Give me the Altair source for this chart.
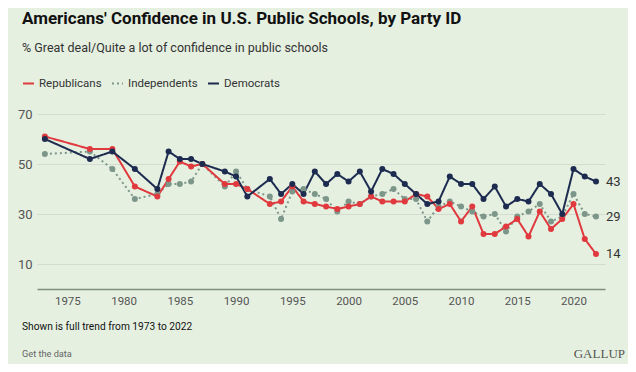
import altair as alt
import pandas as pd

years = [1973, 1977, 1979, 1981, 1983, 1984, 1985, 1986, 1987, 1989, 1990, 1991,
         1993, 1994, 1995, 1996, 1997, 1998, 1999, 2000, 2001, 2002, 2003, 2004,
         2005, 2006, 2007, 2008, 2009, 2010, 2011, 2012, 2013, 2014, 2015, 2016,
         2017, 2018, 2019, 2020, 2021, 2022]
republicans = [61, 56, 56, 41, 37, 44, 51, 49, 50, 42, 42, 40,
               34, 35, 41, 35, 34, 33, 32, 33, 34, 37, 35, 35,
               35, 38, 37, 32, 34, 27, 33, 22, 22, 25, 28, 21,
               31, 24, 28, 34, 20, 14]
independents = [54, 55, 48, 36, 38, 42, 42, 43, 50, 41, 47, 40,
                37, 28, 39, 40, 38, 36, 31, 35, 34, 37, 38, 40,
                36, 36, 27, 33, 35, 33, 31, 29, 30, 23, 29, 31,
                34, 27, 29, 38, 30, 29]
democrats = [60, 52, 55, 48, 40, 55, 52, 52, 50, 47, 45, 37,
             44, 38, 42, 38, 47, 42, 46, 43, 47, 39, 48, 46,
             42, 38, 34, 35, 45, 42, 42, 36, 41, 33, 36, 35,
             42, 38, 30, 48, 45, 43]
parties = ["Republicans", "Independents", "Democrats"]
colors = ["#e0393e", "#7d968a", "#1c2b4f"]
x_ticks = [1975, 1980, 1985, 1990, 1995, 2000, 2005, 2010, 2015, 2020]
y_ticks = [10, 30, 50, 70]

title = "Americans' Confidence in U.S. Public Schools, by Party ID"
subtitle = "% Great deal/Quite a lot of confidence in public schools"
footnote = "Shown is full trend from 1973 to 2022"
getdata = "Get the data"
brand = "GALLUP"

rows = []
for name, vals in [("Independents", independents), ("Republicans", republicans), ("Democrats", democrats)]:
    for y, v in zip(years, vals):
        rows.append({"year": y, "value": v, "party": name})
df = pd.DataFrame(rows)

FONT = "Roboto, sans-serif"

xs = alt.X("year:Q", scale=alt.Scale(domain=[1972.3, 2022.8], nice=False, zero=False),
           axis=alt.Axis(values=x_ticks, format="d", title=None, grid=False, ticks=False,
                         domainColor="#7f8d7e", domainWidth=1.5, labelPadding=6,
                         labelFontSize=11.5, labelColor="#555555", labelFont=FONT))
ys = alt.Y("value:Q", scale=alt.Scale(domain=[0, 70], nice=False, zero=False),
           axis=alt.Axis(values=y_ticks, title=None, domain=False, ticks=False,
                         gridColor="#d3ddcf", labelPadding=5, labelFontSize=13,
                         labelColor="#555555", labelFont=FONT))

legend = alt.Legend(orient="none", legendX=-15, legendY=-37, direction="horizontal",
                    title=None, symbolType="stroke", symbolSize=121, symbolStrokeWidth=2,
                    labelFontSize=11.5, labelColor="#333333", labelFont=FONT,
                    columnPadding=6, symbolOffset=0)

lines = alt.Chart(df).mark_line(
    strokeWidth=2,
    point=alt.OverlayMarkDef(filled=True, size=36, opacity=1),
).encode(
    x=xs, y=ys,
    color=alt.Color("party:N", scale=alt.Scale(domain=parties, range=colors), legend=legend),
    strokeDash=alt.StrokeDash("party:N", scale=alt.Scale(domain=parties, range=[[1, 0], [2, 3], [1, 0]]), legend=legend),
    detail="party:N",
)

end_labels = alt.Chart(df).transform_filter("datum.year == 2022").mark_text(
    align="left", baseline="middle", dx=10, fontSize=13, color="#333333", font=FONT
).encode(x=xs, y=ys, text="value:Q")

def label(txt, x, y, size, color, weight="normal", align="left", font=FONT):
    return alt.Chart(pd.DataFrame({"t": [txt]})).mark_text(
        align=align, baseline="middle", fontSize=size, color=color, fontWeight=weight, font=font
    ).encode(x=alt.value(x), y=alt.value(y), text="t:N")

chart = alt.layer(
    lines,
    end_labels,
    label(title, -15, -95, 17, "#111111", weight="bold"),
    label(subtitle, -15, -66, 12.5, "#333333"),
    label(footnote, -15, 213, 10.2, "#111111"),
    label(getdata, -15, 240, 9.2, "#666666"),
    label(brand, 588, 240, 13, "#555555", align="right", font="Liberation Serif, serif"),
).properties(
    width=568, height=175,
    autosize=alt.AutoSizeParams(type="none"),
    padding={"left": 29, "top": 106, "right": 23, "bottom": 75},
    background="#e5f0e1",
).configure_view(stroke=None)

chart.save("out.html", embed_options={"renderer": "svg", "actions": False})
